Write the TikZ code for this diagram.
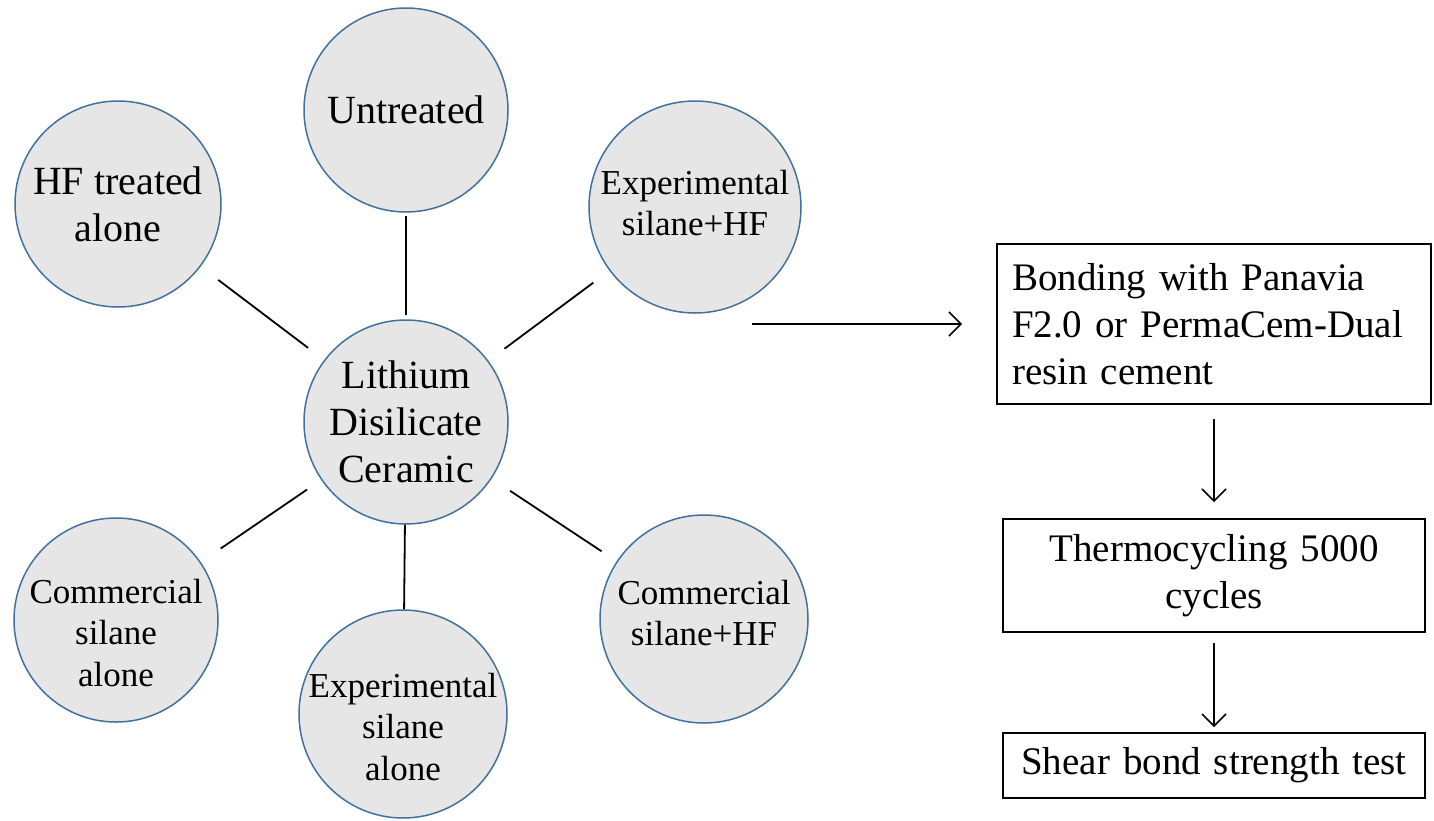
\documentclass[tikz,border=0pt]{standalone}
\usepackage{fontspec}
\setmainfont{Liberation Serif}
\usetikzlibrary{arrows.meta}
\definecolor{circfill}{HTML}{E7E6E6}
\definecolor{circline}{HTML}{41719C}
\begin{document}
\begin{tikzpicture}[x=1pt,y=-1pt,
  circ/.style={circle,draw=circline,line width=1.5pt,fill=circfill,inner sep=0pt},
  lbl/.style={align=center,inner sep=0pt},
  big/.style={font=\fontsize{40}{47}\selectfont},
  small/.style={font=\fontsize{35}{41.5}\selectfont},
  boxfont/.style={font=\fontsize{39}{47}\selectfont},
  conn/.style={draw=black,line width=1.8pt},
  flow/.style={draw=black,line width=1.6pt,-{Straight Barb[length=12pt,width=24pt]}},
  box/.style={draw=black,line width=1.8pt,inner sep=0pt}]
\useasboundingbox (0,0) rectangle (1434,820);
% circles
\node[circ,minimum size=204pt] (un)  at (406,110) {};
\node[circ,minimum size=206pt] (hf)  at (118,204) {};
\node[circ,minimum size=212pt] (ehf) at (695,207) {};
\node[circ,minimum size=204pt] (li)  at (406,422) {};
\node[circ,minimum size=204pt] (ca)  at (116,620) {};
\node[circ,minimum size=208pt] (ea)  at (403,714) {};
\node[circ,minimum size=208pt] (chf) at (704,619) {};
% labels
\node[lbl,big]   (tun)  at (un)  {Untreated};
\node[lbl,big]   (thf)  at (hf)  {HF treated\\alone};
\node[lbl,small] (tehf) at ([yshift=4pt]ehf) {Experimental\\silane+HF};
\node[lbl,big]   (tli)  at (li)  {Lithium\\Disilicate\\Ceramic};
\node[lbl,small] (tca)  at ([yshift=-13pt]ca) {Commercial\\silane\\alone};
\node[lbl,small] (tea)  at ([yshift=-13pt]ea) {Experimental\\silane\\alone};
\node[lbl,small] (tchf) at ([yshift=6pt]chf) {Commercial\\silane+HF};
% connectors
\draw[conn,shorten <=3pt,shorten >=4pt] (un) -- (li);
\draw[conn,shorten <=22pt,shorten >=20pt] (hf) -- (li);
\draw[conn,shorten <=20pt,shorten >=20pt] (ehf) -- (li);
\draw[conn,shorten <=24pt,shorten >=17pt] (ca) -- (li);
\draw[conn,shorten <=0pt,shorten >=0pt] (ea) -- (li);
\draw[conn,shorten <=18pt,shorten >=22pt] (chf) -- (li);
% flow boxes
\node[box,boxfont,minimum width=434pt,minimum height=160pt,text width=404pt,align=left] (b1) at (1214,324)
  {Bonding with Panavia\\F2.0 or PermaCem-Dual\\resin cement};
\node[box,boxfont,minimum width=422pt,minimum height=113pt,text width=410pt,align=center] (b2) at (1214,575.5)
  {Thermocycling 5000\\cycles};
\node[box,boxfont,minimum width=422pt,minimum height=65pt,text width=410pt,align=center] (b3) at (1214,765.5)
  {Shear bond strength test};
\coordinate (a0) at (752,324);
\draw[flow,shorten >=34pt] (a0) -- (b1.west);
\draw[flow,shorten <=14pt,shorten >=16pt] (b1.south) -- (b2.north);
\draw[flow,shorten <=10pt,shorten >=5pt] (b2.south) -- (b3.north);
\end{tikzpicture}
\end{document}
